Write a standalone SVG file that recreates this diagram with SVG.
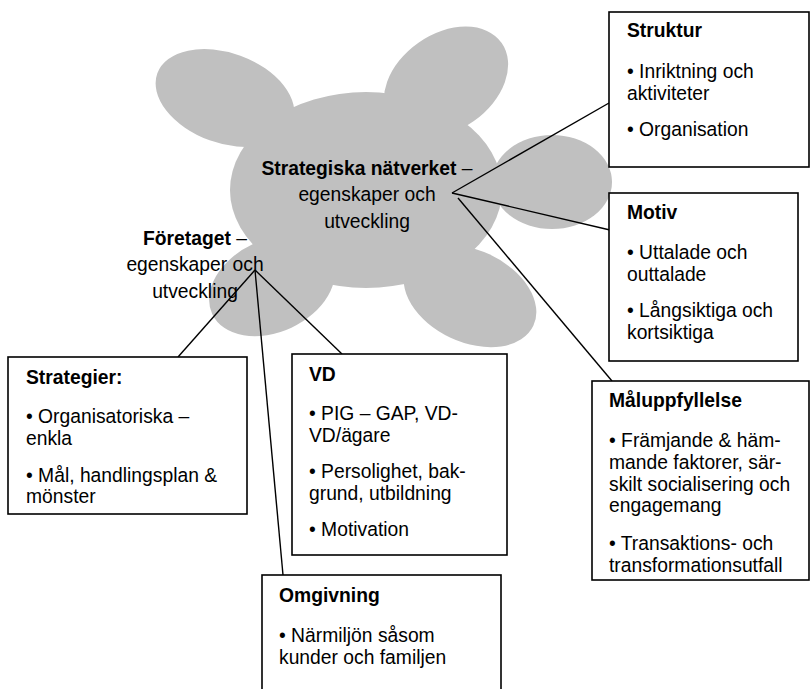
<svg xmlns="http://www.w3.org/2000/svg" width="810" height="689" viewBox="0 0 810 689">
  <style>
    text { font-family: "Liberation Sans", Arial, sans-serif; font-size: 19.3px; fill: #000; }
    .b { font-weight: bold; }
    .box { fill: #fff; stroke: #000; stroke-width: 1.6; }
    .cloud ellipse { fill: #c0c0c0; }
    .conn line { stroke: #000; stroke-width: 1.4; }
  </style>
  <rect width="810" height="689" fill="#fff"/>

  <!-- Cloud shape built from overlapping ellipses -->
  <g id="cloud" class="cloud">
    <ellipse cx="225" cy="98" rx="72" ry="45" transform="rotate(20 225 98)"/>
    <ellipse cx="446" cy="82" rx="68" ry="48" transform="rotate(-35 446 82)"/>
    <ellipse cx="552" cy="182" rx="60" ry="47"/>
    <ellipse cx="470" cy="296" rx="70" ry="46" transform="rotate(25 470 296)"/>
    <ellipse cx="272" cy="286" rx="66" ry="46" transform="rotate(-25 272 286)"/>
    <ellipse cx="366" cy="190" rx="136" ry="98"/>
  </g>

  <!-- Connectors -->
  <g id="connectors" class="conn">
    <line x1="452" y1="193" x2="609" y2="103"/>
    <line x1="452" y1="193" x2="610" y2="230"/>
    <line x1="458" y1="198" x2="612" y2="381"/>
    <line x1="255" y1="270" x2="178" y2="357"/>
    <line x1="255" y1="270" x2="342" y2="354"/>
    <line x1="255" y1="270" x2="283" y2="575"/>
  </g>

  <g id="natverket" text-anchor="middle">
    <text x="367" y="175"><tspan class="b">Strategiska nätverket</tspan> –</text>
    <text x="367" y="201">egenskaper och</text>
    <text x="367" y="228">utveckling</text>
  </g>

  <g id="foretaget" text-anchor="middle">
    <text x="195" y="245"><tspan class="b">Företaget</tspan> –</text>
    <text x="195" y="271">egenskaper och</text>
    <text x="195" y="298">utveckling</text>
  </g>

  <g id="struktur">
    <rect class="box" x="609" y="12" width="200" height="155"/>
    <text class="b" x="627" y="37">Struktur</text>
    <text x="627" y="78">• Inriktning och</text>
    <text x="627" y="100">aktiviteter</text>
    <text x="627" y="136">• Organisation</text>
  </g>

  <g id="motiv">
    <rect class="box" x="609" y="193" width="189" height="168"/>
    <text class="b" x="627" y="219">Motiv</text>
    <text x="627" y="259">• Uttalade och</text>
    <text x="627" y="281">outtalade</text>
    <text x="627" y="317">• Långsiktiga och</text>
    <text x="627" y="339">kortsiktiga</text>
  </g>

  <g id="maluppfyllelse">
    <rect class="box" x="592" y="381" width="217" height="199"/>
    <text class="b" x="609" y="407">Måluppfyllelse</text>
    <text x="609" y="447">• Främjande &amp; häm-</text>
    <text x="609" y="469">mande faktorer, sär-</text>
    <text x="609" y="491">skilt socialisering och</text>
    <text x="609" y="512">engagemang</text>
    <text x="609" y="550">• Transaktions- och</text>
    <text x="609" y="572">transformationsutfall</text>
  </g>

  <g id="strategier">
    <rect class="box" x="8" y="357" width="239" height="157"/>
    <text class="b" x="26" y="384">Strategier:</text>
    <text x="26" y="423">• Organisatoriska –</text>
    <text x="26" y="445">enkla</text>
    <text x="26" y="482">• Mål, handlingsplan &amp;</text>
    <text x="26" y="503">mönster</text>
  </g>

  <g id="vd">
    <rect class="box" x="292" y="354" width="215" height="201"/>
    <text class="b" x="309" y="381">VD</text>
    <text x="309" y="420">• PIG – GAP, VD-</text>
    <text x="309" y="442">VD/ägare</text>
    <text x="309" y="478">• Persolighet, bak-</text>
    <text x="309" y="500">grund, utbildning</text>
    <text x="309" y="536">• Motivation</text>
  </g>

  <g id="omgivning">
    <rect class="box" x="262" y="575" width="239" height="130"/>
    <text class="b" x="279" y="602">Omgivning</text>
    <text x="279" y="642">• Närmiljön såsom</text>
    <text x="279" y="664">kunder och familjen</text>
  </g>
</svg>
